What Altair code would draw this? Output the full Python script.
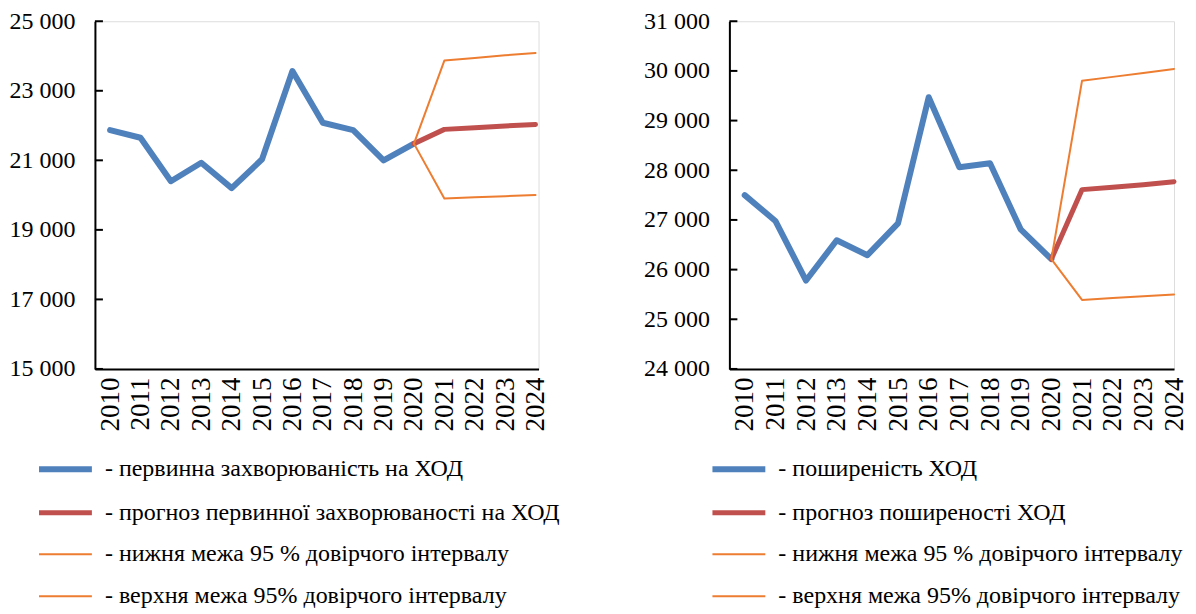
import altair as alt
import pandas as pd

years_actual = list(range(2010, 2021))
years_forecast = [2020, 2021, 2022, 2023, 2024]
all_years = list(range(2010, 2025))

left_actual = [21870, 21650, 20400, 20930, 20200, 21030, 23570, 22080, 21870, 21000, 21480]
left_forecast = [21480, 21890, 21940, 21990, 22030]
left_lower = [21480, 19900, 19935, 19970, 20005]
left_upper = [21480, 23870, 23945, 24020, 24090]
left_names = [
    "- первинна захворюваність на ХОД",
    "- прогноз первинної захворюваності на ХОД",
    "- нижня межа 95 % довірчого інтервалу",
    "- верхня межа 95% довірчого інтервалу",
]
left_ticks = [15000, 17000, 19000, 21000, 23000, 25000]

right_actual = [27500, 26980, 25780, 26590, 26290, 26930, 29470, 28060, 28140, 26810, 26210]
right_forecast = [26210, 27610, 27660, 27710, 27770]
right_lower = [26210, 25390, 25430, 25465, 25500]
right_upper = [26210, 29800, 29880, 29960, 30040]
right_names = [
    "- поширеність ХОД",
    "- прогноз поширеності ХОД",
    "- нижня межа 95 % довірчого інтервалу",
    "- верхня межа 95% довірчого інтервалу",
]
right_ticks = [24000, 25000, 26000, 27000, 28000, 29000, 30000, 31000]

colors = ["#4F81BD", "#C0504D", "#ED7D31", "#ED7D31"]
widths = [6, 5, 2, 2]
FONT = "Liberation Serif"


def panel(actual, forecast, lower, upper, names, ticks, xmax, width, legend_x):
    rows = []
    for y, v in zip(years_actual, actual):
        rows.append({"series": names[0], "year": y, "value": v})
    for name, vals in zip(names[1:], [forecast, lower, upper]):
        for y, v in zip(years_forecast, vals):
            rows.append({"series": name, "year": y, "value": v})
    df = pd.DataFrame(rows)
    ydom = [ticks[0], ticks[-1]]
    xscale = alt.Scale(domain=[2009.5, xmax], nice=False, zero=False)
    yscale = alt.Scale(domain=ydom, nice=False, zero=False)

    legend = alt.Legend(
        title=None,
        orient="none",
        legendX=legend_x,
        legendY=419,
        symbolType="stroke",
        symbolSize=2800,
        labelFont=FONT,
        labelFontSize=24,
        labelColor="black",
        labelLimit=0,
        rowPadding=2,
        labelOffset=10,
    )
    lines = alt.Chart(df).mark_line(strokeCap="round", strokeJoin="round").encode(
        x=alt.X(
            "year:Q",
            scale=xscale,
            axis=alt.Axis(
                title=None,
                values=all_years,
                format="d",
                labelAngle=270,
                labelFont=FONT,
                labelFontSize=27,
                labelColor="black",
                labelPadding=8,
                tickSize=0,
                grid=False,
                domainColor="black",
                domainWidth=2,
                labelFlush=False,
                labelOverlap=False,
            ),
        ),
        y=alt.Y(
            "value:Q",
            scale=yscale,
            axis=alt.Axis(
                title=None,
                values=ticks,
                labelExpr="replace(format(datum.value, ',d'), ',', ' ')",
                labelFont=FONT,
                labelFontSize=24,
                labelColor="black",
                labelPadding=20,
                tickSize=0,
                grid=False,
                domainColor="black",
                domainWidth=2,
                labelFlush=False,
                labelOverlap=False,
            ),
        ),
        color=alt.Color("series:N", scale=alt.Scale(domain=names, range=colors), legend=legend),
        strokeWidth=alt.StrokeWidth(
            "series:N", scale=alt.Scale(type="ordinal", domain=names, range=widths), legend=legend
        ),
    )
    tick_df = pd.DataFrame({"t": ticks})
    tick_rules = alt.Chart(tick_df).mark_rule(color="black", strokeWidth=2).encode(
        y=alt.Y("t:Q", scale=yscale),
        x=alt.value(0),
        x2=alt.value(8),
    )
    return alt.layer(lines, tick_rules).properties(width=width, height=348)


left = panel(left_actual, left_forecast, left_lower, left_upper, left_names, left_ticks, 2024.1, 444, -59)
right = panel(right_actual, right_forecast, right_lower, right_upper, right_names, right_ticks, 2024.0, 445, -20)

chart = alt.hconcat(left, right, spacing=191, bounds="flush").resolve_scale(
    color="independent", strokeWidth="independent", x="independent", y="independent"
).configure_view(stroke=None).configure(
    background="white", padding={"top": 0, "left": 0, "right": 0, "bottom": 0}
)

chart.save("out.html", embed_options={"renderer": "svg", "actions": False})
